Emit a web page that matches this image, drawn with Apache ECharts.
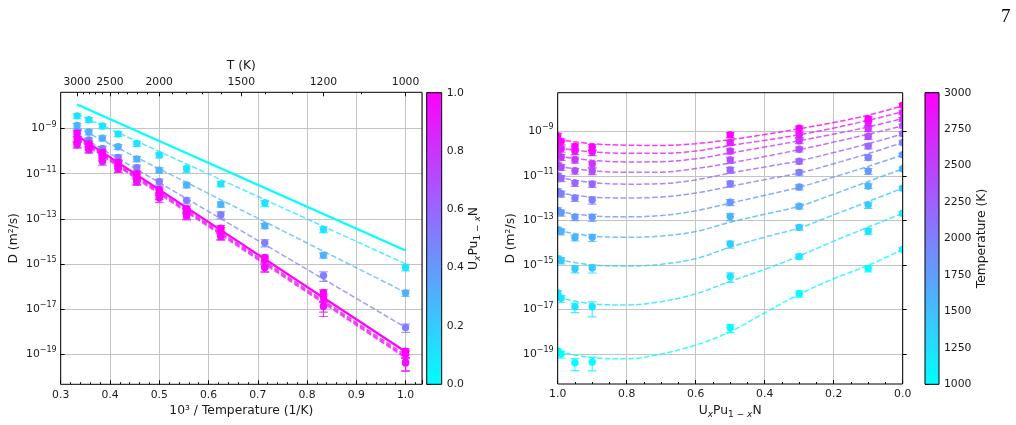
<!DOCTYPE html>
<html><head><meta charset="utf-8">
<script src="https://cdn.jsdelivr.net/npm/echarts@6/dist/echarts.min.js"></script>
<style>html,body{margin:0;padding:0;background:#fff}#c{width:1016px;height:425px}</style>
</head><body><div id="c"></div>
<script>
// ---------------- data ----------------
const temperatures = [1000, 1200, 1400, 1600, 1800, 2000, 2200, 2400, 2600, 2800, 3000];
const compositions = [0.0, 0.1, 0.3, 0.5, 0.9, 0.95, 0.99, 1.0];
// log10 of D (m^2/s), one value per temperature
const logD_x000 = [-14.3, -12.68, -11.55, -10.68, -10.05, -9.5, -9.1, -8.75, -8.45, -8.15, -7.82];
const logD_x010 = [-15.16, -13.47, -12.3, -11.45, -10.78, -10.17, -9.66, -9.23, -8.88, -8.6, -8.43];
const logD_x030 = [-16.29, -14.62, -13.31, -12.36, -11.5, -10.84, -10.34, -9.8, -9.42, -9.15, -8.86];
const logD_x050 = [-17.82, -15.52, -14.06, -12.82, -12.18, -11.35, -10.73, -10.28, -9.88, -9.5, -9.15];
const logD_x090 = [-19.36, -16.88, -15.14, -13.76, -12.86, -12.08, -11.36, -10.79, -10.46, -9.93, -9.71];
const logD_x095 = [-19.4, -16.88, -15.17, -13.77, -12.85, -11.99, -11.32, -10.77, -10.27, -9.89, -9.67];
const logD_x099 = [-19.0, -16.5, -14.8, -13.5, -12.65, -11.8, -11.1, -10.6, -10.15, -9.78, -9.45];
const logD_x100 = [-18.88, -16.27, -14.72, -13.42, -12.55, -11.7, -11.0, -10.5, -10.05, -9.68, -9.2];
// relative errors (sigma / D)
const relErr_x000 = [0.2, 0.2, 0.2, 0.2, 0.2, 0.2, 0.2, 0.2, 0.2, 0.2, 0.2];
const relErr_x010 = [0.3, 0.3, 0.3, 0.25, 0.3, 0.25, 0.25, 0.25, 0.25, 0.25, 0.25];
const relErr_x030 = [0.3, 0.25, 0.25, 0.25, 0.25, 0.25, 0.25, 0.25, 0.25, 0.25, 0.25];
const relErr_x050 = [0.4, 0.45, 0.35, 0.35, 0.3, 0.3, 0.3, 0.3, 0.25, 0.25, 0.25];
const relErr_x090 = [0.6, 0.65, 0.4, 0.35, 0.35, 0.35, 0.3, 0.3, 0.3, 0.3, 0.3];
const relErr_x095 = [0.55, 0.45, 0.35, 0.3, 0.3, 0.3, 0.3, 0.3, 0.3, 0.3, 0.3];
const relErr_x099 = [0.35, 0.35, 0.3, 0.3, 0.3, 0.3, 0.3, 0.3, 0.3, 0.3, 0.3];
const relErr_x100 = [0.3, 0.3, 0.3, 0.3, 0.3, 0.3, 0.3, 0.3, 0.3, 0.3, 0.3];

// Arrhenius fits (left panel), endpoints at 1000/T = 1/3 and 1
const arrheniusX = [1 / 3, 1.0];
const solid_x000 = [-7.93, -14.41];
const solid_x100 = [-9.31, -18.9];
const dashed_x010 = [-8.35, -15.0];
const dashed_x030 = [-8.95, -16.27];
const dashed_x050 = [-9.25, -17.82];
const dashed_x090 = [-9.47, -19.18];
const dashed_x095 = [-9.42, -19.12];
const dashed_x099 = [-9.37, -19.05];

// composition fits (right panel), one per temperature
const fitCompositions = [1.0, 0.9, 0.8, 0.7, 0.6, 0.5, 0.4, 0.3, 0.2, 0.1, 0.0];
const fit_T1000 = [-18.9, -19.16, -19.22, -19.0, -18.6, -18.0, -17.15, -16.32, -15.62, -15.02, -14.3];
const fit_T1200 = [-16.46, -16.75, -16.8, -16.65, -16.3, -15.74, -15.2, -14.6, -13.93, -13.3, -12.68];
const fit_T1400 = [-14.76, -15.0, -15.05, -14.97, -14.72, -14.2, -13.75, -13.34, -12.75, -12.15, -11.55];
const fit_T1600 = [-13.46, -13.7, -13.76, -13.7, -13.5, -13.08, -12.72, -12.36, -11.82, -11.25, -10.68];
const fit_T1800 = [-12.59, -12.8, -12.84, -12.78, -12.57, -12.22, -11.87, -11.51, -11.05, -10.57, -10.05];
const fit_T2000 = [-11.77, -11.95, -11.99, -11.95, -11.77, -11.47, -11.17, -10.87, -10.45, -10.0, -9.5];
const fit_T2200 = [-11.06, -11.3, -11.37, -11.35, -11.18, -10.87, -10.6, -10.32, -9.95, -9.55, -9.12];
const fit_T2400 = [-10.57, -10.77, -10.84, -10.83, -10.67, -10.42, -10.13, -9.82, -9.48, -9.13, -8.75];
const fit_T2600 = [-10.12, -10.3, -10.37, -10.36, -10.23, -9.97, -9.7, -9.42, -9.12, -8.8, -8.42];
const fit_T2800 = [-9.75, -9.92, -9.98, -9.98, -9.88, -9.63, -9.4, -9.15, -8.85, -8.5, -8.12];
const fit_T3000 = [-9.37, -9.55, -9.62, -9.63, -9.55, -9.37, -9.14, -8.88, -8.6, -8.27, -7.85];

// ticks
const logTicks = [-19, -17, -15, -13, -11, -9];
const topTempTicks = [3000, 2500, 2000, 1500, 1200, 1000];
const topTempMinor = [1000,1100,1200,1300,1400,1500,1600,1700,1800,1900,2000,2100,2200,2300,2400,2500,2600,2700,2800,2900,3000];
const cbComp = [0, 1];
const cbTemp = [1000, 3000];

// ---------------- build ----------------
const logD = [logD_x000, logD_x010, logD_x030, logD_x050, logD_x090, logD_x095, logD_x099, logD_x100];
const relErr = [relErr_x000, relErr_x010, relErr_x030, relErr_x050, relErr_x090, relErr_x095, relErr_x099, relErr_x100];
const dashedLeft = [[0.1, dashed_x010], [0.3, dashed_x030], [0.5, dashed_x050], [0.9, dashed_x090], [0.95, dashed_x095], [0.99, dashed_x099]];
const fits = [fit_T1000, fit_T1200, fit_T1400, fit_T1600, fit_T1800, fit_T2000, fit_T2200, fit_T2400, fit_T2600, fit_T2800, fit_T3000];

function cool(v) {
  v = Math.max(0, Math.min(1, v));
  return 'rgb(' + Math.round(255 * v) + ',' + Math.round(255 * (1 - v)) + ',255)';
}
const FONT = 'DejaVu Sans';
const TXT = '#1a1a1a';

function pointRender(params, api) {
  const x = api.value(0), y = api.value(1), lo = api.value(2), hi = api.value(3), v = api.value(4);
  const c = cool(v);
  const p = api.coord([x, y]), pl = api.coord([x, lo]), ph = api.coord([x, hi]);
  const cw = 4.3;
  const s = { stroke: c, lineWidth: 1.2, opacity: 0.8 };
  return {
    type: 'group', children: [
      { type: 'line', shape: { x1: p[0], y1: pl[1], x2: p[0], y2: ph[1] }, style: s },
      { type: 'line', shape: { x1: p[0] - cw, y1: pl[1], x2: p[0] + cw, y2: pl[1] }, style: s },
      { type: 'line', shape: { x1: p[0] - cw, y1: ph[1], x2: p[0] + cw, y2: ph[1] }, style: s },
      { type: 'circle', shape: { cx: p[0], cy: p[1], r: 3.7 }, style: { fill: c } }
    ]
  };
}
function cbRender(params, api) {
  const cs = params.coordSys;
  const top = api.coord([0, api.value(2)])[1], bot = api.coord([0, api.value(1)])[1];
  return {
    type: 'rect', shape: { x: cs.x, y: top, width: cs.width, height: bot - top },
    style: {
      fill: new echarts.graphic.LinearGradient(0, 1, 0, 0, [{ offset: 0, color: '#00ffff' }, { offset: 1, color: '#ff00ff' }]),
      stroke: '#000', lineWidth: 1
    }
  };
}

const leftPts = [], rightPts = [];
compositions.forEach((x, ci) => {
  temperatures.forEach((T, ti) => {
    const y = logD[ci][ti], r = relErr[ci][ti];
    const lo = y + Math.log10(1 - r), hi = y + Math.log10(1 + r);
    if (x > 0) leftPts.push([1000 / T, y, lo, hi, x]);
    rightPts.push([x, y, lo, hi, (T - 1000) / 2000]);
  });
});

const powRich = { sup: { fontSize: 8, fontFamily: FONT, color: TXT, padding: [0, 0, 8, 0] } };
const powFmt = v => '10{sup|\u2212' + Math.abs(Math.round(v)) + '}';
const compName = 'U{si|x}Pu{s|1 \u2212 }{si|x}N';
const compRich = {
  s: { fontSize: 9, fontFamily: FONT, color: TXT, padding: [7, 0, 0, 0] },
  si: { fontSize: 9, fontFamily: FONT, color: TXT, fontStyle: 'italic', padding: [7, 0, 0, 0] }
};
const lbl = { fontFamily: FONT, fontSize: 10.8, color: TXT };
const gridLine = { show: true, lineStyle: { color: '#c4c4c4', width: 1 } };

const series = [];
// left panel lines
dashedLeft.forEach(([x, ends]) => {
  series.push({
    type: 'line', xAxisIndex: 0, yAxisIndex: 0, symbol: 'none', z: 2,
    data: arrheniusX.map((t, i) => [t, ends[i]]),
    lineStyle: { color: cool(x), width: 1.5, type: [5.5, 2.4], opacity: 0.75 }
  });
});
[[0, solid_x000], [1, solid_x100]].forEach(([x, ends]) => {
  series.push({
    type: 'line', xAxisIndex: 0, yAxisIndex: 0, symbol: 'none', z: 2,
    data: arrheniusX.map((t, i) => [t, ends[i]]),
    lineStyle: { color: cool(x), width: 2.2 }
  });
});
series.push({
  type: 'custom', xAxisIndex: 0, yAxisIndex: 0, renderItem: pointRender, clip: true, z: 3,
  dimensions: ['x', 'y', 'lo', 'hi', 'c'], encode: { x: 0, y: 1 }, data: leftPts
});
// right panel lines
fits.forEach((f, i) => {
  series.push({
    type: 'line', xAxisIndex: 4, yAxisIndex: 2, symbol: 'none', smooth: 0.35, z: 2,
    data: fitCompositions.map((c, j) => [c, f[j]]),
    lineStyle: { color: cool((temperatures[i] - 1000) / 2000), width: 1.5, type: [5.5, 2.4], opacity: 0.8 }
  });
});
series.push({
  type: 'custom', xAxisIndex: 4, yAxisIndex: 2, renderItem: pointRender, clip: true, z: 3,
  dimensions: ['x', 'y', 'lo', 'hi', 'c'], encode: { x: 0, y: 1 }, data: rightPts
});
// colorbars
series.push({ type: 'custom', xAxisIndex: 3, yAxisIndex: 1, renderItem: cbRender, encode: { x: 0, y: [1, 2] }, data: [[0, cbComp[0], cbComp[1]]] });
series.push({ type: 'custom', xAxisIndex: 5, yAxisIndex: 3, renderItem: cbRender, encode: { x: 0, y: [1, 2] }, data: [[0, cbTemp[0], cbTemp[1]]] });

const option = {
  animation: false,
  backgroundColor: '#fff',
  title: { text: '7', left: 996, top: 3, textStyle: { fontFamily: 'Liberation Serif', fontSize: 19, fontWeight: 'normal', color: '#000' } },
  grid: [
    { left: 60.7, top: 92.3, width: 361.3, height: 292, show: true, z: 10, borderColor: '#000', borderWidth: 1, backgroundColor: 'rgba(0,0,0,0)' },
    { left: 426.7, top: 92.7, width: 15, height: 291.6 },
    { left: 557.7, top: 92.7, width: 345, height: 291.3, show: true, z: 10, borderColor: '#000', borderWidth: 1, backgroundColor: 'rgba(0,0,0,0)' },
    { left: 925, top: 92.7, width: 14, height: 291.6 }
  ],
  xAxis: [
    { gridIndex: 0, type: 'value', position: 'bottom', min: 0.3, max: 1.0 + 1 / 30, interval: 0.1,
      axisLine: { show: false }, axisTick: { inside: true, length: 4, lineStyle: { color: '#000' } },
      minorTick: { show: true, splitNumber: 5, length: 2, lineStyle: { color: '#000' } },
      axisLabel: Object.assign({ margin: 5, showMaxLabel: false, formatter: v => v.toFixed(1) }, lbl),
      splitLine: gridLine,
      name: '10\u00b3 / Temperature (1/K)', nameLocation: 'middle', nameGap: 20,
      nameTextStyle: { fontFamily: FONT, fontSize: 12.3, color: TXT } },
    { gridIndex: 0, type: 'value', position: 'top', min: 0.3, max: 1.0 + 1 / 30,
      axisLine: { show: false },
      axisTick: { inside: true, length: 4, customValues: topTempTicks.map(t => 1000 / t), lineStyle: { color: '#000' } },
      axisLabel: Object.assign({ margin: 5, customValues: topTempTicks.map(t => 1000 / t), formatter: v => String(Math.round(1000 / v)) }, lbl),
      splitLine: { show: false },
      name: 'T (K)', nameLocation: 'middle', nameGap: 18,
      nameTextStyle: { fontFamily: FONT, fontSize: 12.3, color: TXT } },
    { gridIndex: 0, type: 'value', position: 'top', min: 0.3, max: 1.0 + 1 / 30,
      axisLine: { show: false }, axisLabel: { show: false }, splitLine: { show: false },
      axisTick: { inside: true, length: 2, customValues: topTempMinor.map(t => 1000 / t), lineStyle: { color: '#000' } } },
    { gridIndex: 1, type: 'value', min: 0, max: 1, show: false },
    { gridIndex: 2, type: 'value', position: 'bottom', min: 0, max: 1, interval: 0.2, inverse: true,
      axisLine: { show: false }, axisTick: { inside: true, length: 4, lineStyle: { color: '#000' } },
      minorTick: { show: true, splitNumber: 4, length: 2, lineStyle: { color: '#000' } },
      axisLabel: Object.assign({ margin: 5, formatter: v => v.toFixed(1) }, lbl),
      splitLine: gridLine,
      name: compName, nameLocation: 'middle', nameGap: 18,
      nameTextStyle: { fontFamily: FONT, fontSize: 12.3, color: TXT, rich: compRich } },
    { gridIndex: 3, type: 'value', min: 0, max: 1, show: false }
  ],
  yAxis: [
    { gridIndex: 0, type: 'value', min: -20.345, max: -7.385,
      axisLine: { show: false },
      axisTick: { inside: true, length: 4, customValues: logTicks, lineStyle: { color: '#000' } },
      axisLabel: Object.assign({ margin: 4, customValues: logTicks, formatter: powFmt, rich: powRich }, lbl),
      splitLine: gridLine,
      name: 'D (m\u00b2/s)', nameLocation: 'middle', nameGap: 41, nameRotate: 90,
      nameTextStyle: { fontFamily: FONT, fontSize: 12.3, color: TXT } },
    { gridIndex: 1, type: 'value', position: 'right', min: 0, max: 1, interval: 0.2,
      axisLine: { show: false }, axisTick: { inside: false, length: 4, lineStyle: { color: '#000' } },
      minorTick: { show: true, splitNumber: 4, length: 2, lineStyle: { color: '#000' } },
      axisLabel: Object.assign({ margin: 5, formatter: v => v.toFixed(1) }, lbl),
      splitLine: { show: false },
      name: compName, nameLocation: 'middle', nameGap: 22, nameRotate: 90,
      nameTextStyle: { fontFamily: FONT, fontSize: 12.3, color: TXT, rich: compRich } },
    { gridIndex: 2, type: 'value', min: -20.35, max: -7.26,
      axisLine: { show: false },
      axisTick: { inside: true, length: 4, customValues: logTicks, lineStyle: { color: '#000' } },
      axisLabel: Object.assign({ margin: 4, customValues: logTicks, formatter: powFmt, rich: powRich }, lbl),
      splitLine: gridLine,
      name: 'D (m\u00b2/s)', nameLocation: 'middle', nameGap: 41, nameRotate: 90,
      nameTextStyle: { fontFamily: FONT, fontSize: 12.3, color: TXT } },
    { gridIndex: 3, type: 'value', position: 'right', min: 1000, max: 3000, interval: 250,
      axisLine: { show: false }, axisTick: { inside: false, length: 4, lineStyle: { color: '#000' } },
      minorTick: { show: true, splitNumber: 5, length: 2, lineStyle: { color: '#000' } },
      axisLabel: Object.assign({ margin: 5, formatter: v => String(Math.round(v)) }, lbl),
      splitLine: { show: false },
      name: 'Temperature (K)', nameLocation: 'middle', nameGap: 35, nameRotate: 90,
      nameTextStyle: { fontFamily: FONT, fontSize: 12.3, color: TXT } }
  ],
  series: series
};
const chart = echarts.init(document.getElementById('c'), null, { renderer: 'canvas' });
chart.setOption(option);
</script></body></html>
